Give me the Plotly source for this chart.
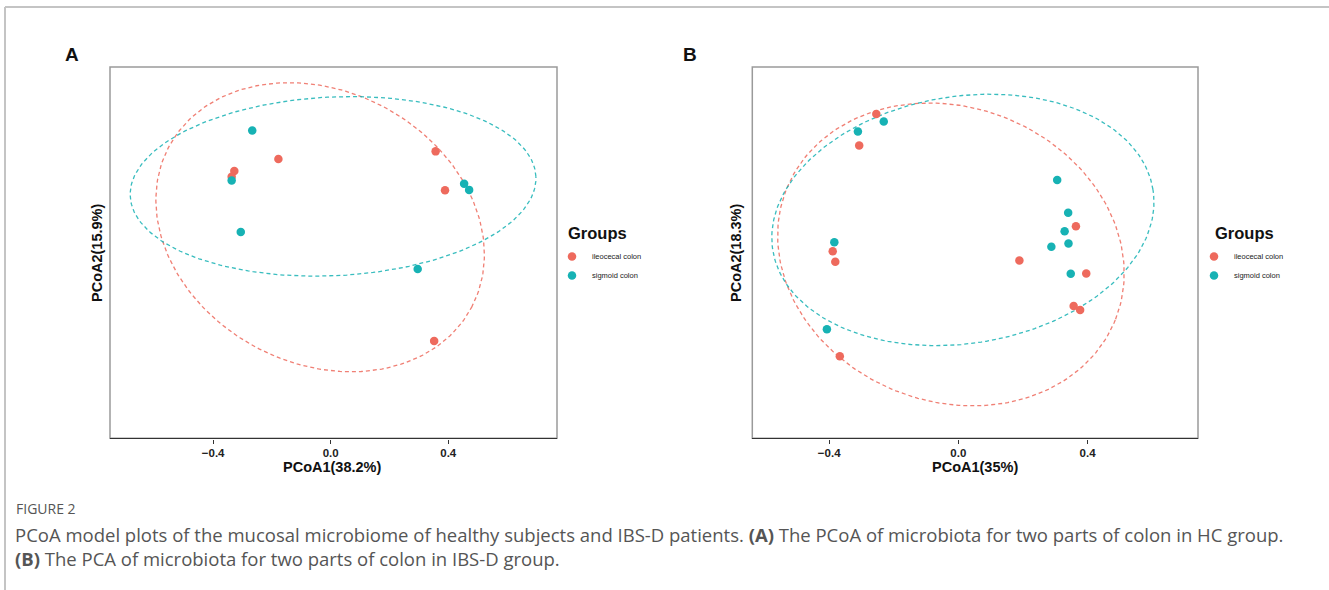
import numpy as np
import plotly.graph_objects as go

# ---------------- data ----------------
groups = ["ileocecal colon", "sigmoid colon"]
colors = {"ileocecal colon": "#EE6A5D", "sigmoid colon": "#17B2B4"}

# Panel A (HC group)
a_ileo_x = [-0.178, -0.328, -0.337, 0.357, 0.389, 0.352]
a_ileo_y = [0.320, 0.279, 0.260, 0.346, 0.214, -0.299]
a_sig_x = [-0.267, -0.337, -0.306, 0.454, 0.471, 0.296]
a_sig_y = [0.417, 0.247, 0.072, 0.236, 0.215, -0.054]

# Panel B (IBS-D group)
b_ileo_x = [-0.254, -0.307, 0.364, 0.189, 0.396, 0.357, 0.377, -0.389, -0.381, -0.367]
b_ileo_y = [0.431, 0.334, 0.083, -0.023, -0.063, -0.164, -0.176, 0.006, -0.027, -0.320]
b_sig_x = [-0.311, -0.231, 0.306, 0.340, 0.329, 0.341, 0.288, 0.348, -0.384, -0.407]
b_sig_y = [0.377, 0.408, 0.227, 0.125, 0.068, 0.030, 0.020, -0.064, 0.034, -0.236]

# 95% ellipses: centre x, centre y, semi-axis a, semi-axis b, angle (deg)
a_ileo_ell = [-0.036, 0.088, 0.583, 0.463, -27.9]
a_sig_ell = [0.008, 0.227, 0.691, 0.304, 2.8]
b_ileo_ell = [-0.023, -0.004, 0.548, 0.456, -21.5]
b_sig_ell = [0.014, 0.103, 0.596, 0.383, 9.1]

x_ticks = [-0.4, 0.0, 0.4]
x_tick_text = ["\u22120.4", "0.0", "0.4"]
a_xlabel, a_ylabel = "PCoA1(38.2%)", "PCoA2(15.9%)"
b_xlabel, b_ylabel = "PCoA1(35%)", "PCoA2(18.3%)"
legend_title = "Groups"

W, H = 1329, 590
FONT = "Liberation Sans, Arial, sans-serif"


def ellipse(p, n=240):
    cx, cy, a, b, ang = p
    t = np.linspace(0, 2 * np.pi, n)
    th = np.deg2rad(ang)
    x = cx + a * np.cos(th) * np.cos(t) - b * np.sin(th) * np.sin(t)
    y = cy + a * np.sin(th) * np.cos(t) + b * np.cos(th) * np.sin(t)
    return x, y


fig = go.Figure()

panels = [
    ("x", "y", "legend", [(a_ileo_x, a_ileo_y, a_ileo_ell), (a_sig_x, a_sig_y, a_sig_ell)]),
    ("x2", "y2", "legend2", [(b_ileo_x, b_ileo_y, b_ileo_ell), (b_sig_x, b_sig_y, b_sig_ell)]),
]

for xa, ya, leg, series in panels:
    for g, (xs, ys, ep) in zip(groups, series):
        ex, ey = ellipse(ep)
        fig.add_trace(go.Scatter(x=ex, y=ey, mode="lines", xaxis=xa, yaxis=ya,
                                 line=dict(color=colors[g], width=1.3, dash="4px,3px"),
                                 opacity=0.85, showlegend=False, hoverinfo="skip"))
    for g, (xs, ys, ep) in zip(groups, series):
        fig.add_trace(go.Scatter(x=xs, y=ys, mode="markers", name=g, xaxis=xa, yaxis=ya,
                                 legend=leg,
                                 marker=dict(color=colors[g], size=8.5, line=dict(width=0))))

ydom = [1 - 438.3 / H, 1 - 67 / H]
axis_common = dict(showgrid=False, zeroline=False, showline=True, linecolor="#333",
                   linewidth=1.4, ticks="outside", ticklen=4, tickwidth=1.2, tickcolor="#333",
                   tickvals=x_ticks, ticktext=x_tick_text,
                   tickfont=dict(family=FONT, size=11.5, color="#222", weight="bold"))
yaxis_common = dict(showgrid=False, zeroline=False, showline=False, showticklabels=False,
                    ticks="", domain=ydom)

leg_common = dict(yanchor="top", font=dict(family=FONT, size=7.5, color="#222"),
                  itemwidth=30, bgcolor="rgba(0,0,0,0)", tracegroupgap=0)

fig.update_layout(
    width=W, height=H, margin=dict(l=0, r=0, t=0, b=0),
    paper_bgcolor="white", plot_bgcolor="white",
    xaxis=dict(domain=[110 / W, 557 / W], range=[-0.751, 0.770], anchor="y", **axis_common),
    yaxis=dict(range=[-0.630, 0.633], anchor="x", **yaxis_common),
    xaxis2=dict(domain=[752.3 / W, 1198 / W], range=[-0.638, 0.742], anchor="y2", **axis_common),
    yaxis2=dict(range=[-0.574, 0.577], anchor="x2", **yaxis_common),
    legend=dict(x=552 / W, xanchor="left", y=1 - 242 / H, **leg_common),
    legend2=dict(x=1194 / W, xanchor="left", y=1 - 242 / H, **leg_common),
    showlegend=True,
)

# panel boxes (grey border) and page frame
for xr, yr in [("x domain", "y domain"), ("x2 domain", "y2 domain")]:
    fig.add_shape(type="rect", xref=xr, yref=yr, x0=0, x1=1, y0=0, y1=1,
                  line=dict(color="#9a9a9a", width=1.5), layer="below")
fig.add_shape(type="line", xref="paper", yref="paper", x0=5 / W, x1=1, y0=1 - 7 / H, y1=1 - 7 / H,
              line=dict(color="#c4c4c4", width=2))
fig.add_shape(type="line", xref="paper", yref="paper", x0=5 / W, x1=5 / W, y0=0, y1=1 - 7 / H,
              line=dict(color="#c4c4c4", width=2))


def ann(text, x, y, size, angle=0, xanchor="center", color="#111", family=FONT, weight="bold"):
    fig.add_annotation(text=text, x=x / W, y=1 - y / H, xref="paper", yref="paper",
                       showarrow=False, textangle=angle, xanchor=xanchor, yanchor="middle",
                       align="left", font=dict(family=family, size=size, color=color, weight=weight))


# panel letters
ann("A", 72, 55, 19)
ann("B", 690, 55, 19)
# legend titles
ann(legend_title, 566, 233, 16.5, xanchor="left")
ann(legend_title, 1213, 233, 16.5, xanchor="left")
# axis titles
ann(a_xlabel, 332, 467, 14.5)
ann(a_ylabel, 97, 253, 14.5, angle=-90)
ann(b_xlabel, 975, 467, 14.5)
ann(b_ylabel, 736, 253, 14.5, angle=-90)

# caption
CAP = "Open Sans, Noto Sans, sans-serif"
ann("FIGURE 2", 14, 508, 14, xanchor="left", color="#555", family=CAP, weight="normal")
ann("PCoA model plots of the mucosal microbiome of healthy subjects and IBS-D patients. "
    "<b>(A)</b> The PCoA of microbiota for two parts of colon in HC group.<br>"
    "<b>(B)</b> The PCA of microbiota for two parts of colon in IBS-D group.",
    13, 546, 18.5, xanchor="left", color="#555", family=CAP, weight="normal")

fig.write_html("out.html", config={"displayModeBar": False},
               post_script="document.body.style.margin='0';document.body.style.overflow='hidden';")
